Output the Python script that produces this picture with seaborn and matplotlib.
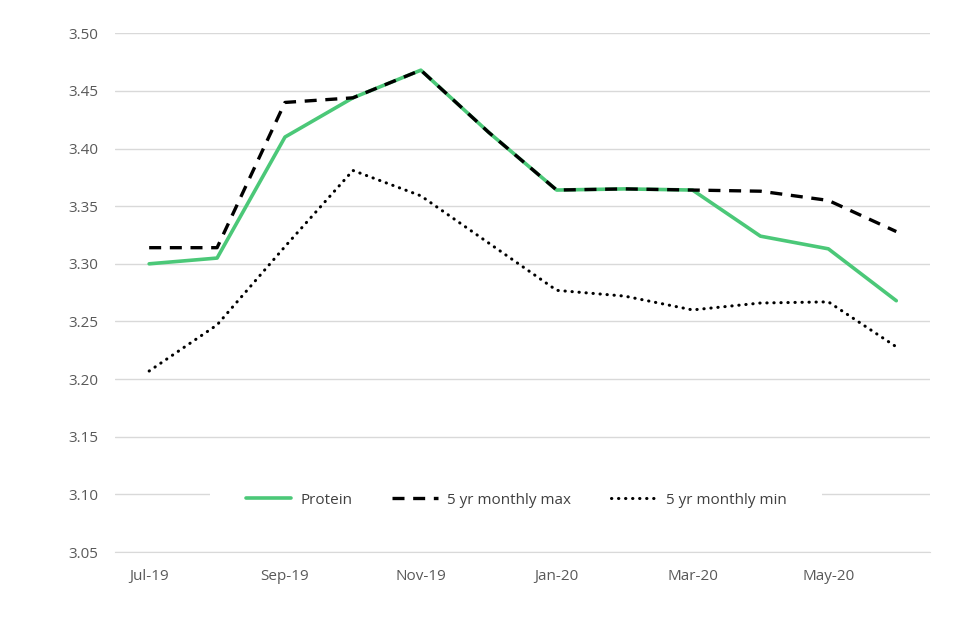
import numpy as np
import pandas as pd
import matplotlib
matplotlib.use("Agg")
import matplotlib.pyplot as plt
import seaborn as sns

# Datos
months = ["Jul-19", "Aug-19", "Sep-19", "Oct-19", "Nov-19", "Dec-19",
          "Jan-20", "Feb-20", "Mar-20", "Apr-20", "May-20", "Jun-20"]
protein = [3.300, 3.305, 3.410, 3.444, 3.468, 3.414, 3.364, 3.365, 3.364, 3.324, 3.313, 3.268]
max_5yr = [3.314, 3.314, 3.440, 3.444, 3.468, 3.414, 3.364, 3.365, 3.364, 3.363, 3.355, 3.328]
min_5yr = [3.207, 3.247, 3.315, 3.381, 3.359, 3.318, 3.277, 3.272, 3.260, 3.266, 3.267, 3.228]
y_ticks = [3.05, 3.10, 3.15, 3.20, 3.25, 3.30, 3.35, 3.40, 3.45, 3.50]

df = pd.DataFrame({"idx": range(len(months)), "Protein": protein,
                   "5 yr monthly max": max_5yr, "5 yr monthly min": min_5yr})

sns.set_style("white")
plt.rcParams['font.family'] = ['Open Sans', 'DejaVu Sans']

fig = plt.figure(figsize=(9.6, 6.4), dpi=100)
ax = fig.add_axes([0.12, 0.1375, 0.849, 0.8105])

grey = "#595959"
sns.lineplot(data=df, x="idx", y="Protein", ax=ax, color="#4BC878", lw=2.6,
             label="Protein", zorder=3)
sns.lineplot(data=df, x="idx", y="5 yr monthly max", ax=ax, color="black", lw=2.4,
             label="5 yr monthly max", zorder=4)
sns.lineplot(data=df, x="idx", y="5 yr monthly min", ax=ax, color="black", lw=2.2,
             label="5 yr monthly min", zorder=4)
ax.lines[1].set_dashes([3.6, 2.6])
ax.lines[2].set_dashes([0.1, 2.2])
ax.lines[2].set_dash_capstyle("round")

# Ejes
ax.set_xlim(-0.5, len(months) - 0.5)
ax.set_ylim(3.05, 3.50)
ax.set_yticks(y_ticks)
ax.set_yticklabels([f"{v:.2f}" for v in y_ticks], color=grey, fontsize=11)
ax.yaxis.grid(True, color="#D9D9D9", lw=1)
ax.tick_params(axis="y", length=0, pad=12)

ax.set_xticks(np.arange(-0.5, len(months), 2))
ax.set_xticklabels([])
ax.tick_params(axis="x", which="major", length=6, color="#D9D9D9", width=1, direction="out")
ax.set_xticks(range(0, len(months), 2), minor=True)
ax.set_xticklabels(months[::2], minor=True, color=grey, fontsize=11)
ax.tick_params(axis="x", which="minor", length=0, pad=12)

ax.set_xlabel("")
ax.set_ylabel("")
for s in ["top", "right", "left"]:
    ax.spines[s].set_visible(False)
ax.spines["bottom"].set_color("#D9D9D9")
ax.set_axisbelow(True)

leg = ax.legend(loc="center", bbox_to_anchor=(0.492, 0.1), ncol=3, frameon=True,
                fontsize=11, handlelength=3.0, columnspacing=2.6, borderpad=2.3,
                handletextpad=0.6)
leg.get_frame().set_facecolor("white")
leg.get_frame().set_edgecolor("none")
leg.get_frame().set_alpha(1)
leg.get_frame().set_boxstyle("square", pad=0)
for t in leg.get_texts():
    t.set_color("#404040")

plt.savefig("out.png", dpi=100)
